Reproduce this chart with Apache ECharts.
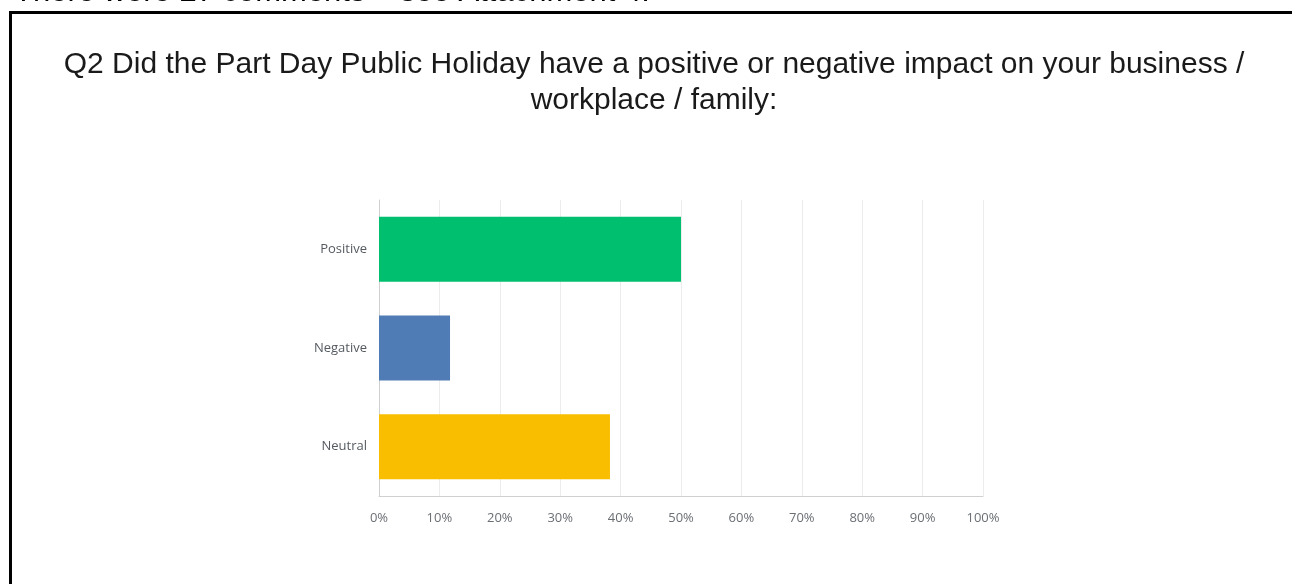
<!DOCTYPE html>
<html>
<head>
<meta charset="utf-8">
<script src="https://cdn.jsdelivr.net/npm/echarts@6/dist/echarts.min.js"></script>
<style>
  html, body { margin: 0; padding: 0; background: #ffffff; }
  #chart { width: 1292px; height: 584px; }
</style>
</head>
<body>
<div id="chart"></div>
<script>
// Survey answers for Q2 (share of respondents, %)
const categories = ['Positive', 'Negative', 'Neutral'];
const shares = [50.00, 11.76, 38.24];
const barColors = ['#00bf6f', '#507cb6', '#f9be00'];

const titleText = 'Q2 Did the Part Day Public Holiday have a positive or negative impact on your business /\nworkplace / family:';
const noteText = 'There were 27 comments \u2013 see Attachment 4.';

const chart = echarts.init(document.getElementById('chart'), null, { renderer: 'canvas' });

chart.setOption({
  backgroundColor: '#ffffff',
  animation: false,
  graphic: [
    {
      // note line running above the framed chart
      type: 'text',
      x: 14,
      y: 8,
      style: {
        text: noteText,
        font: '31px "Liberation Sans", Arial, sans-serif',
        fill: '#000000',
        align: 'left',
        verticalAlign: 'bottom'
      }
    },
    {
      // frame around the chart
      type: 'polyline',
      shape: { points: [[10.5, 600], [10.5, 12.5], [1300, 12.5]] },
      style: { stroke: '#000000', lineWidth: 3, fill: null }
    },
    {
      type: 'text',
      x: 654,
      y: 47,
      style: {
        text: titleText,
        font: '30px "Liberation Sans", Arial, sans-serif',
        fill: '#1a1a1a',
        lineHeight: 36,
        align: 'center',
        verticalAlign: 'top'
      }
    }
  ],
  grid: { left: 379, right: 309, top: 200, bottom: 88, containLabel: false },
  xAxis: {
    type: 'value',
    min: 0,
    max: 100,
    interval: 10,
    axisLine: { show: true, lineStyle: { color: '#d0d0d0', width: 1 } },
    axisTick: { show: false },
    axisLabel: {
      formatter: v => v + '%',
      color: '#6b6f74',
      fontFamily: '"Open Sans", sans-serif',
      fontSize: 13,
      margin: 16
    },
    splitLine: { show: true, lineStyle: { color: '#ececec', width: 1 } }
  },
  yAxis: {
    type: 'category',
    data: categories,
    inverse: true,
    axisLine: { show: true, lineStyle: { color: '#d0d0d0', width: 1 } },
    axisTick: { show: false },
    axisLabel: {
      color: '#555a60',
      fontFamily: '"Open Sans", sans-serif',
      fontSize: 13,
      margin: 12
    }
  },
  series: [{
    type: 'bar',
    barWidth: 65,
    data: shares.map((v, i) => ({ value: v, itemStyle: { color: barColors[i] } })),
    label: { show: false }
  }]
});
</script>
</body>
</html>
